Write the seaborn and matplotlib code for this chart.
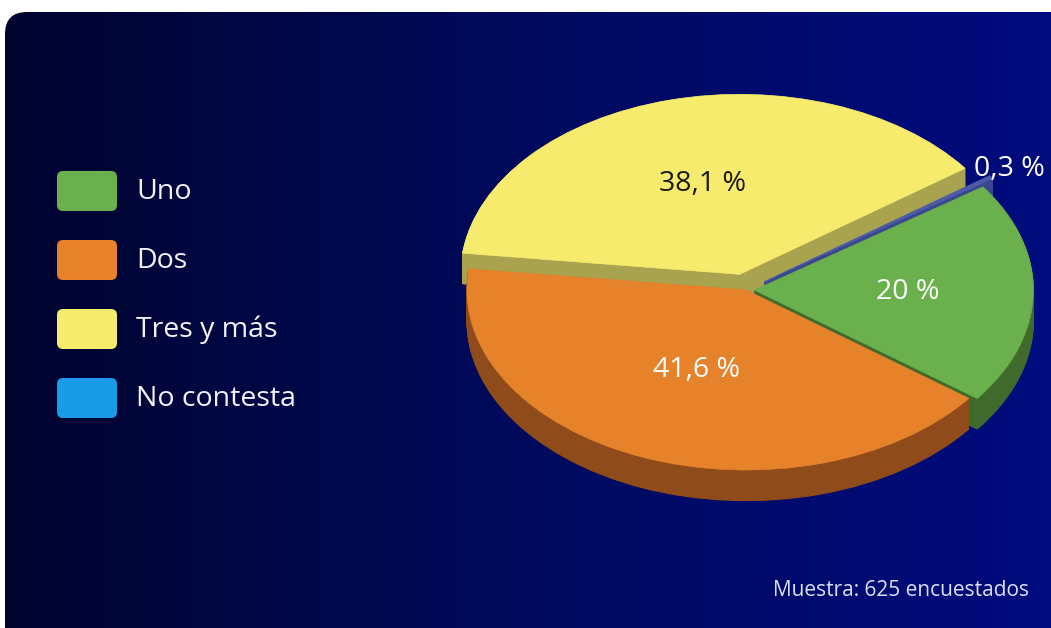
import numpy as np
import matplotlib
matplotlib.use("Agg")
import matplotlib.pyplot as plt
import seaborn as sns
from matplotlib.patches import FancyBboxPatch
from matplotlib.colors import LinearSegmentedColormap

# ---------------- data ----------------
categories = ["Uno", "Dos", "Tres y más", "No contesta"]
values = [20.0, 41.6, 38.1, 0.3]
value_labels = ["20 %", "41,6 %", "38,1 %", "0,3 %"]
note = "Muestra: 625 encuestados"

# ---------------- style ----------------
legend_colors = ["#6ab04c", "#e6822a", "#f6eb6c", "#1a9be8"]
top_colors = ["#6ab04c", "#e6822a", "#f6eb6c", "#4c5ca8"]
side_colors = ["#3f6a2c", "#8f4c1a", "#a9a24f", "#3a4790"]
pie_order = [0, 3, 2, 1]          # counter-clockwise from start angle
explode = {0: 0.03, 1: 0.0, 2: 0.09, 3: 0.08}
label_r = {0: 0.55, 1: 0.48, 2: 0.52, 3: 1.08}
label_color = {0: "white", 1: "white", 2: "#1a1a1a", 3: "white"}

sns.set_theme(style="white")
plt.rcParams['font.family'] = ['Open Sans', 'DejaVu Sans']

W, H = 1051, 628
fig = plt.figure(figsize=(W / 100, H / 100), dpi=100)
fig.patch.set_facecolor('white')

# background panel with gradient
bg = fig.add_axes([0, 0, 1, 1])
bg.set_xlim(0, W)
bg.set_ylim(H, 0)
bg.axis('off')
cmap = LinearSegmentedColormap.from_list('bg', ['#00042e', '#000a5e', '#000c80'])
grad = np.linspace(0, 1, 256).reshape(1, -1)
im = bg.imshow(grad, extent=[5, W + 30, H + 30, 12], cmap=cmap, aspect='auto', zorder=0)
panel = FancyBboxPatch((5, 12), W + 30, H + 30,
                       boxstyle="round,pad=0,rounding_size=22",
                       transform=bg.transData, facecolor='none', edgecolor='none')
bg.add_patch(panel)
im.set_clip_path(panel)

# legend
for i, (cat, col) in enumerate(zip(categories, legend_colors)):
    yc = 191 + i * 69
    bg.add_patch(FancyBboxPatch((57, yc - 20), 60, 40,
                                boxstyle="round,pad=0,rounding_size=6",
                                facecolor=col, edgecolor='none', zorder=2))
    bg.text(136, yc + 1, cat, color='#f2f2f8', fontsize=20.5, va='center', ha='left', zorder=3)

bg.text(1029, 590, note, color='#dde0f2', fontsize=15, va='center', ha='right', zorder=3)

# ---------------- pseudo-3D pie ----------------
cx, cy, rx, ry = 746, 290, 279, 180
xl, xr, yb, yt = -1.3, 1.3, -1.5, 1.3
ax = fig.add_axes([(cx + xl * rx) / W, (H - (cy - yb * ry)) / H,
                   (xr - xl) * rx / W, (yt - yb) * ry / H])
ax.patch.set_alpha(0)

vals = [values[i] for i in pie_order]
expl = [explode[i] for i in pie_order]
start = -37
depth = 0.17
n_layers = 32
for d in np.linspace(depth, 0.005, n_layers):
    ws = ax.pie(vals, colors=[side_colors[i] for i in pie_order], explode=expl,
                startangle=start, counterclock=True, center=(0, -d),
                wedgeprops=dict(linewidth=0.8))[0]
    for w in ws:
        w.set_edgecolor(w.get_facecolor())

wedges = ax.pie(vals, colors=[top_colors[i] for i in pie_order], explode=expl,
                startangle=start, counterclock=True, center=(0, 0),
                wedgeprops=dict(linewidth=0.5))[0]
for w in wedges:
    w.set_edgecolor(w.get_facecolor())

for w, idx in zip(wedges, pie_order):
    th = np.deg2rad((w.theta1 + w.theta2) / 2)
    x = w.center[0] + label_r[idx] * np.cos(th)
    y = w.center[1] + label_r[idx] * np.sin(th)
    ax.text(x, y, value_labels[idx], color=label_color[idx], fontsize=20.5,
            ha='center', va='center', zorder=10)

ax.set_aspect('auto')
ax.set_xlim(xl, xr)
ax.set_ylim(yb, yt)
ax.axis('off')

fig.savefig("out.png", dpi=100, facecolor=fig.get_facecolor())
